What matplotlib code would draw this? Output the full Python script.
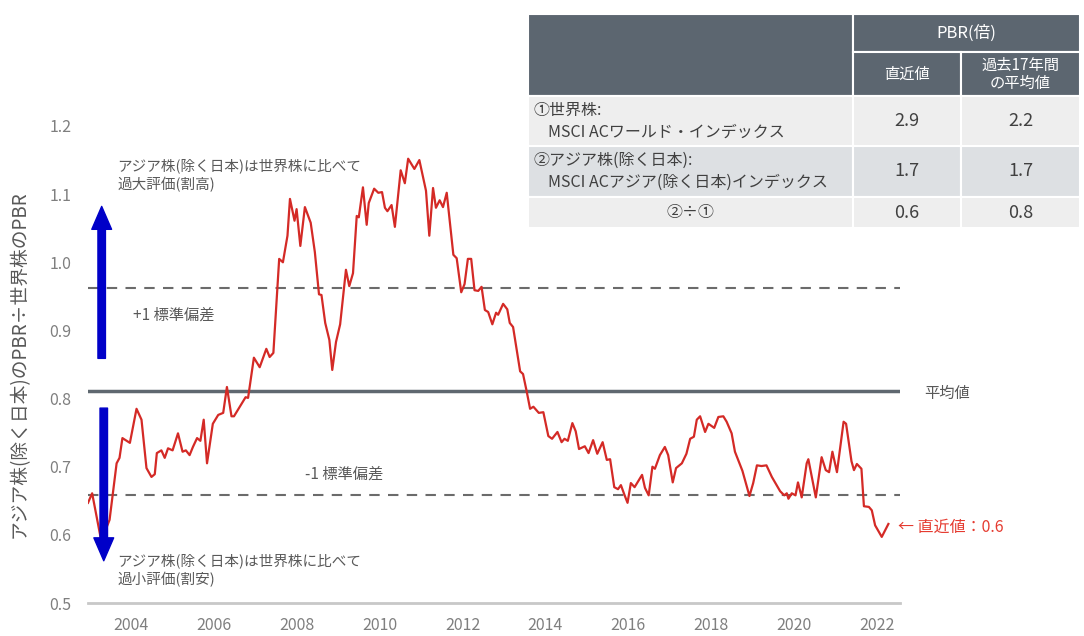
import matplotlib
matplotlib.use('Agg')
import matplotlib.pyplot as plt
from matplotlib.patches import Rectangle

plt.rcParams['font.family'] = ['Noto Sans CJK JP', 'DejaVu Sans']

# ---- data: Asia ex-Japan PBR / World PBR ----
years = [2002.97, 2003.07, 2003.29, 2003.49, 2003.66, 2003.73, 2003.80, 2003.98, 2004.14, 2004.26,
         2004.38, 2004.50, 2004.58, 2004.63, 2004.74, 2004.82, 2004.90, 2005.01, 2005.14, 2005.25,
         2005.33, 2005.42, 2005.50, 2005.60, 2005.68, 2005.76, 2005.84, 2005.98, 2006.11, 2006.23,
         2006.32, 2006.43, 2006.49, 2006.63, 2006.77, 2006.83, 2006.97, 2007.11, 2007.27, 2007.35,
         2007.44, 2007.58, 2007.67, 2007.78, 2007.84, 2007.95, 2008.00, 2008.09, 2008.20, 2008.34,
         2008.44, 2008.54, 2008.60, 2008.69, 2008.79, 2008.86, 2008.95, 2009.05, 2009.19, 2009.27,
         2009.36, 2009.45, 2009.50, 2009.60, 2009.69, 2009.74, 2009.87, 2009.97, 2010.06, 2010.13,
         2010.19, 2010.29, 2010.37, 2010.51, 2010.61, 2010.69, 2010.84, 2010.96, 2011.12, 2011.20,
         2011.29, 2011.36, 2011.45, 2011.53, 2011.62, 2011.78, 2011.86, 2011.97, 2012.05, 2012.13,
         2012.21, 2012.29, 2012.38, 2012.46, 2012.54, 2012.62, 2012.72, 2012.81, 2012.86, 2012.98,
         2013.08, 2013.14, 2013.22, 2013.39, 2013.46, 2013.55, 2013.63, 2013.71, 2013.84, 2013.95,
         2014.07, 2014.16, 2014.29, 2014.39, 2014.46, 2014.54, 2014.65, 2014.73, 2014.81, 2014.95,
         2015.04, 2015.15, 2015.25, 2015.38, 2015.48, 2015.56, 2015.66, 2015.75, 2015.82, 2015.91,
         2015.98, 2016.06, 2016.15, 2016.33, 2016.40, 2016.49, 2016.58, 2016.64, 2016.76, 2016.88,
         2016.96, 2017.07, 2017.15, 2017.29, 2017.40, 2017.49, 2017.58, 2017.65, 2017.73, 2017.85,
         2017.93, 2018.07, 2018.17, 2018.29, 2018.37, 2018.49, 2018.57, 2018.75, 2018.92, 2019.01,
         2019.10, 2019.21, 2019.33, 2019.46, 2019.66, 2019.76, 2019.82, 2019.86, 2019.94, 2020.03,
         2020.09, 2020.18, 2020.30, 2020.34, 2020.52, 2020.66, 2020.76, 2020.84, 2020.92, 2021.03,
         2021.19, 2021.25, 2021.38, 2021.44, 2021.51, 2021.62, 2021.68, 2021.80, 2021.87, 2021.95,
         2022.11, 2022.27]
ratio = [0.647, 0.661, 0.591, 0.622, 0.705, 0.713, 0.742, 0.735, 0.785, 0.769,
         0.698, 0.685, 0.689, 0.720, 0.724, 0.713, 0.727, 0.724, 0.749, 0.722,
         0.724, 0.717, 0.729, 0.742, 0.738, 0.769, 0.705, 0.763, 0.776, 0.779,
         0.817, 0.774, 0.774, 0.788, 0.802, 0.801, 0.860, 0.846, 0.873, 0.861,
         0.867, 1.005, 1.000, 1.039, 1.093, 1.061, 1.078, 1.024, 1.081, 1.058,
         1.015, 0.953, 0.952, 0.911, 0.886, 0.842, 0.883, 0.909, 0.989, 0.965,
         0.984, 1.068, 1.066, 1.110, 1.055, 1.087, 1.108, 1.102, 1.103, 1.080,
         1.075, 1.084, 1.052, 1.135, 1.116, 1.152, 1.137, 1.150, 1.105, 1.039,
         1.109, 1.080, 1.091, 1.081, 1.102, 1.011, 1.006, 0.956, 0.968, 1.005,
         1.005, 0.959, 0.958, 0.964, 0.930, 0.927, 0.909, 0.926, 0.923, 0.939,
         0.931, 0.911, 0.905, 0.840, 0.836, 0.810, 0.785, 0.788, 0.779, 0.780,
         0.745, 0.741, 0.751, 0.736, 0.741, 0.738, 0.764, 0.752, 0.726, 0.730,
         0.720, 0.739, 0.719, 0.736, 0.710, 0.711, 0.670, 0.667, 0.673, 0.658,
         0.647, 0.676, 0.670, 0.688, 0.669, 0.658, 0.700, 0.697, 0.717, 0.729,
         0.717, 0.677, 0.698, 0.705, 0.719, 0.741, 0.744, 0.769, 0.774, 0.751,
         0.763, 0.757, 0.773, 0.774, 0.766, 0.749, 0.722, 0.694, 0.657, 0.676,
         0.702, 0.701, 0.702, 0.685, 0.664, 0.658, 0.661, 0.653, 0.661, 0.658,
         0.677, 0.655, 0.705, 0.711, 0.655, 0.714, 0.695, 0.692, 0.722, 0.692,
         0.766, 0.763, 0.708, 0.695, 0.704, 0.697, 0.642, 0.641, 0.636, 0.614,
         0.597, 0.616]

MEAN = 0.811
PLUS_1SD = 0.962
MINUS_1SD = 0.658

xticks = [2004, 2006, 2008, 2010, 2012, 2014, 2016, 2018, 2020, 2022]
yticks = [0.5, 0.6, 0.7, 0.8, 0.9, 1.0, 1.1, 1.2]

# table contents
tbl_rows = [('①世界株:', 'MSCI ACワールド・インデックス', '2.9', '2.2'),
            ('②アジア株(除く日本):', 'MSCI ACアジア(除く日本)インデックス', '1.7', '1.7')]
tbl_ratio = ('②÷①', '0.6', '0.8')

W, H = 1084, 636
GRAY = '#595959'


def fx(x):
    return x / W


def fy(y):
    return 1 - y / H


fig = plt.figure(figsize=(W / 100, H / 100), dpi=100)
ax = fig.add_axes([fx(88), fy(603), (900 - 88) / W, (603 - 126) / H])

ax.axhline(PLUS_1SD, color='#6b6b6b', lw=1.5, ls=(0, (5, 4)), zorder=1)
ax.axhline(MINUS_1SD, color='#6b6b6b', lw=1.5, ls=(0, (5, 4)), zorder=1)
ax.axhline(MEAN, color='#5f6870', lw=2.5, zorder=1)
ax.plot(years, ratio, color='#d42a26', lw=1.6, zorder=3)

ax.set_xlim(2002.97, 2022.55)
ax.set_ylim(0.5, 1.2)
ax.set_xticks(xticks)
ax.set_xticklabels([str(y) for y in xticks])
ax.set_yticks(yticks)
ax.set_yticklabels([f'{v:.1f}' for v in yticks])
ax.tick_params(length=0, colors='#7f7f7f', labelsize=11.5)
ax.tick_params(axis='x', pad=10)
ax.tick_params(axis='y', pad=12)
for s in ['top', 'right', 'left']:
    ax.spines[s].set_visible(False)
ax.spines['bottom'].set_color('#c8c8c8')
ax.spines['bottom'].set_linewidth(2)

ax.set_ylabel('アジア株(除く日本)のPBR÷世界株のPBR', fontsize=13.5, color=GRAY, labelpad=14)

# blue arrows
arrow = dict(arrowstyle='simple,head_width=0.95,head_length=1.1,tail_width=0.36',
             mutation_scale=15, color='#0000c8', shrinkA=0, shrinkB=0)
ax.annotate('', xy=(2003.30, 1.082), xytext=(2003.30, 0.859), arrowprops=arrow,
            annotation_clip=False)
ax.annotate('', xy=(2003.35, 0.562), xytext=(2003.35, 0.786), arrowprops=arrow,
            annotation_clip=False)

# annotation texts
fig.text(fx(117), fy(158), 'アジア株(除く日本)は世界株に比べて\n過大評価(割高)', fontsize=10.5,
         color=GRAY, va='top', linespacing=1.3)
fig.text(fx(117), fy(553), 'アジア株(除く日本)は世界株に比べて\n過小評価(割安)', fontsize=10.5,
         color=GRAY, va='top', linespacing=1.3)
fig.text(fx(133), fy(315), '+1 標準偏差', fontsize=11, color=GRAY, va='center')
fig.text(fx(305), fy(474), '-1 標準偏差', fontsize=11, color=GRAY, va='center')
fig.text(fx(924), fy(393), '平均値', fontsize=11, color=GRAY, va='center')
fig.text(fx(898), fy(527), '← 直近値：0.6', fontsize=11.5, color='#e53b30', va='center')

# ---- table (top right) ----
c0, c1, c2, c3 = 528, 853, 961, 1080
r0, r1, r2, r3, r4, r5 = 14, 52, 96, 146, 197, 228
HEAD = '#5c6670'


def cell(x0, y0, x1, y1, color):
    fig.patches.append(Rectangle((fx(x0), fy(y1)), fx(x1) - fx(x0), fy(y0) - fy(y1),
                                 transform=fig.transFigure, facecolor=color,
                                 edgecolor='white', lw=1.5, zorder=0))


cell(c0, r0, c1, r2, HEAD)
cell(c1, r0, c3, r1, HEAD)
cell(c1, r1, c2, r2, HEAD)
cell(c2, r1, c3, r2, HEAD)
row_colors = ['#eeeeee', '#dde0e3', '#eeeeee']
bounds = [(r2, r3), (r3, r4), (r4, r5)]
for (ya, yb), col in zip(bounds, row_colors):
    cell(c0, ya, c1, yb, col)
    cell(c1, ya, c2, yb, col)
    cell(c2, ya, c3, yb, col)

fig.text(fx((c1 + c3) / 2), fy(33), 'PBR(倍)', fontsize=12, color='white', ha='center', va='center')
fig.text(fx((c1 + c2) / 2), fy(74), '直近値', fontsize=11, color='white', ha='center', va='center')
fig.text(fx((c2 + c3) / 2), fy(74), '過去17年間\nの平均値', fontsize=11, color='white',
         ha='center', va='center', linespacing=1.1)

TXT = '#404040'
for (ya, yb), (lab1, lab2, v1, v2) in zip(bounds[:2], tbl_rows):
    mid = (ya + yb) / 2
    fig.text(fx(533), fy(mid - 11), lab1, fontsize=11.5, color=TXT, va='center')
    fig.text(fx(548), fy(mid + 11), lab2, fontsize=11.5, color=TXT, va='center')
    fig.text(fx((c1 + c2) / 2), fy(mid), v1, fontsize=13, color=TXT, ha='center', va='center')
    fig.text(fx((c2 + c3) / 2), fy(mid), v2, fontsize=13, color=TXT, ha='center', va='center')
mid = (r4 + r5) / 2
fig.text(fx((c0 + c1) / 2), fy(mid), tbl_ratio[0], fontsize=11.5, color=TXT, ha='center', va='center')
fig.text(fx((c1 + c2) / 2), fy(mid), tbl_ratio[1], fontsize=13, color=TXT, ha='center', va='center')
fig.text(fx((c2 + c3) / 2), fy(mid), tbl_ratio[2], fontsize=13, color=TXT, ha='center', va='center')

fig.savefig('out.png', dpi=100)
